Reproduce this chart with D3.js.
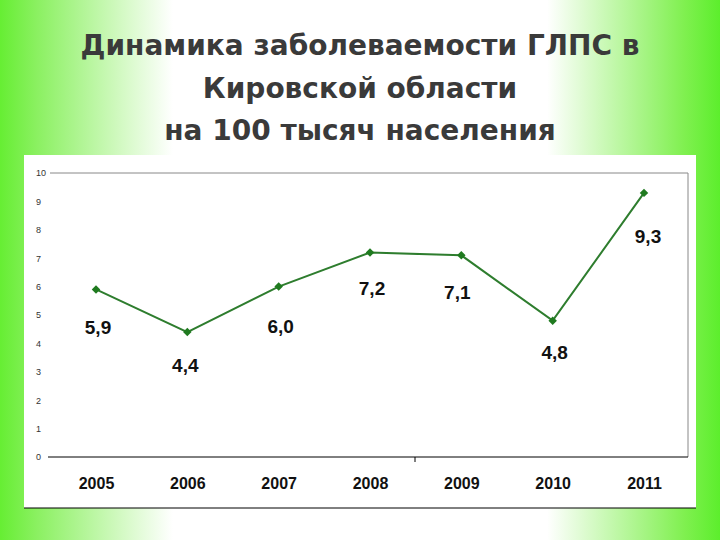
<!DOCTYPE html>
<html>
<head>
<meta charset="utf-8">
<script src="https://cdn.jsdelivr.net/npm/d3@7.9.0/dist/d3.min.js"></script>
<style>
  body { margin: 0; }
  svg { display: block; font-family: "Liberation Sans", Arial, sans-serif; }
</style>
</head>
<body>
<svg width="720" height="540"></svg>
<script>
// Data
const years = ['2005', '2006', '2007', '2008', '2009', '2010', '2011'];
const rates = [5.9, 4.4, 6.0, 7.2, 7.1, 4.8, 9.3];
const yTicks = [0, 1, 2, 3, 4, 5, 6, 7, 8, 9, 10];
const titleLines = ['Динамика заболеваемости ГЛПС в', 'Кировской области', 'на 100 тысяч населения'];
// label offset from point, in px
const labelDx = [2, -2, 2, 2, -4, 2, 4];
const labelDy = [45, 40, 46, 42, 44, 38, 50];

const svg = d3.select('svg');

// Background gradient
const defs = svg.append('defs');
const grad = defs.append('linearGradient').attr('id', 'bg');
grad.append('stop').attr('offset', '0%').attr('stop-color', '#66ee33');
grad.append('stop').attr('offset', '5%').attr('stop-color', '#8af060');
grad.append('stop').attr('offset', '24%').attr('stop-color', '#ffffff');
grad.append('stop').attr('offset', '76%').attr('stop-color', '#ffffff');
grad.append('stop').attr('offset', '95%').attr('stop-color', '#80f050');
grad.append('stop').attr('offset', '100%').attr('stop-color', '#5cee2c');
svg.append('rect').attr('width', 720).attr('height', 540).attr('fill', 'url(#bg)');

// Title
svg.append('g').selectAll('text')
  .data(titleLines)
  .join('text')
  .attr('x', 360)
  .attr('y', (d, i) => 55 + i * 42.5)
  .attr('text-anchor', 'middle')
  .attr('font-family', '"DejaVu Sans", sans-serif')
  .attr('font-size', 28)
  .attr('font-weight', 'bold')
  .attr('fill', '#3a3a3a')
  .text((d) => d);

// White panel
svg.append('rect').attr('x', 24).attr('y', 155).attr('width', 672).attr('height', 353).attr('fill', '#fff');
svg.append('line').attr('x1', 24).attr('x2', 696).attr('y1', 508).attr('y2', 508).attr('stroke', '#000');

// Scales
const x = d3.scalePoint().domain(years).range([96, 644]);
const y = d3.scaleLinear().domain([0, 10]).range([457, 173]);

// Plot frame
svg.append('path')
  .attr('d', `M50,${y(10)}H688V${y(0)}`)
  .attr('fill', 'none').attr('stroke', '#888');

// Y axis (labels only)
const yAxis = svg.append('g')
  .attr('transform', 'translate(44,0)')
  .call(d3.axisLeft(y).tickValues(yTicks).tickSize(0).tickPadding(0));
yAxis.select('.domain').remove();
yAxis.selectAll('text').attr('font-size', 9).attr('fill', '#333').attr('text-anchor', 'start').attr('x', -8);

// X axis
const xAxis = svg.append('g')
  .attr('transform', `translate(0,${y(0)})`)
  .call(d3.axisBottom(x).tickSize(0).tickPadding(21));
xAxis.select('.domain').attr('d', 'M48,0H688').attr('stroke', '#000');
xAxis.selectAll('text').attr('font-size', 16).attr('font-weight', 'bold').attr('fill', '#111');
svg.append('line').attr('x1', 415).attr('x2', 415).attr('y1', y(0)).attr('y2', y(0) + 5).attr('stroke', '#000');

// Line
const line = d3.line().x((d, i) => x(years[i])).y((d) => y(d));
svg.append('path')
  .datum(rates)
  .attr('d', line)
  .attr('fill', 'none')
  .attr('stroke', '#2e7d2e')
  .attr('stroke-width', 2);

svg.append('g').selectAll('path')
  .data(rates)
  .join('path')
  .attr('d', d3.symbol(d3.symbolSquare, 36))
  .attr('transform', (d, i) => `translate(${x(years[i])},${y(d)}) rotate(45)`)
  .attr('fill', '#1f7a1f');

// Value labels
svg.append('g').selectAll('text')
  .data(rates)
  .join('text')
  .attr('x', (d, i) => x(years[i]) + labelDx[i])
  .attr('y', (d, i) => y(d) + labelDy[i])
  .attr('text-anchor', 'middle')
  .attr('font-size', 19)
  .attr('font-weight', 'bold')
  .attr('fill', '#111')
  .text((d) => d.toFixed(1).replace('.', ','));
</script>
</body>
</html>
